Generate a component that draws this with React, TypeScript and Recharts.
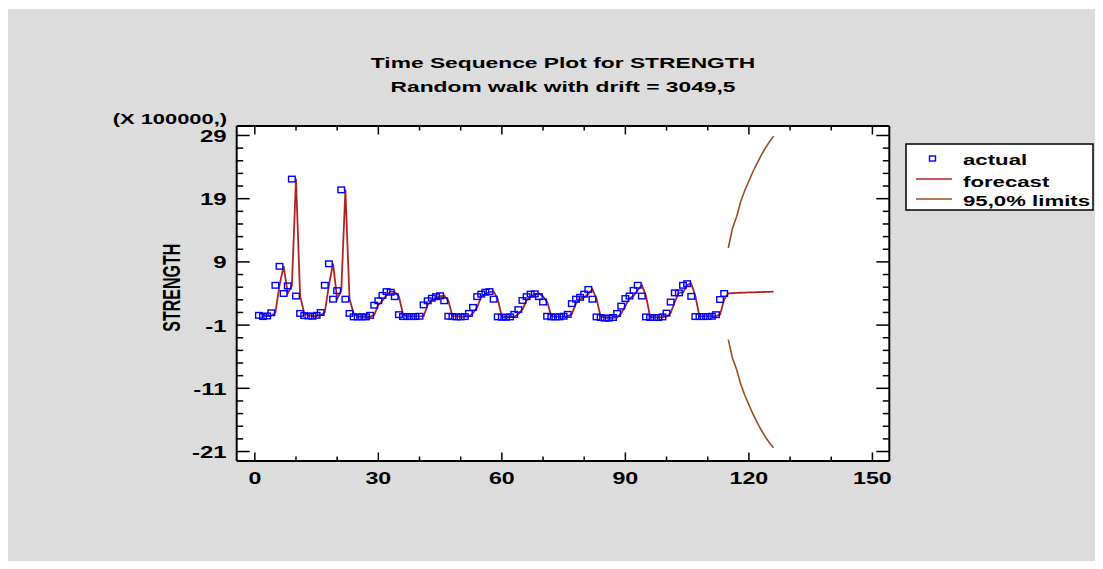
import { ComposedChart, Line, XAxis, YAxis, CartesianGrid, Legend, Customized } from 'recharts';

const FONT = '"Liberation Sans", Arial, sans-serif';

const TITLE = 'Time Sequence Plot for STRENGTH';
const SUBTITLE = 'Random walk with drift = 3049,5';
const Y_NAME = 'STRENGTH';
const Y_SCALE_NOTE = '(X 100000,)';
const LEGEND_NAMES = ['actual', 'forecast', '95,0% limits'];

// values in units of 100000
const ACTUAL_START = 1;
const actual = [
  0.55, 0.35, 0.45, 0.95, 5.3, 8.3, 4.0, 5.2, 22.1, 3.6, 0.85, 0.5,
  0.45, 0.4, 0.55, 1.0, 5.3, 8.7, 3.1, 4.45, 20.4, 3.1, 0.85, 0.3,
  0.3, 0.3, 0.3, 0.55, 2.15, 2.85, 3.7, 4.3, 4.2, 3.5, 0.65, 0.35,
  0.35, 0.35, 0.35, 0.4, 2.2, 2.85, 3.25, 3.5, 3.65, 2.85, 0.4, 0.35,
  0.3, 0.3, 0.35, 0.85, 1.8, 3.5, 3.9, 4.2, 4.3, 3.1, 0.3, 0.25,
  0.25, 0.3, 0.7, 1.45, 2.9, 3.5, 3.9, 3.95, 3.5, 2.65, 0.4, 0.3,
  0.3, 0.3, 0.4, 0.7, 2.4, 3.1, 3.4, 3.9, 4.65, 3.1, 0.3, 0.2,
  0.1, 0.1, 0.2, 0.85, 2.0, 3.2, 3.6, 4.5, 5.3, 3.6, 0.3, 0.2,
  0.2, 0.2, 0.3, 0.9, 2.65, 4.1, 4.1, 5.3, 5.55, 3.55, 0.35, 0.35,
  0.35, 0.35, 0.4, 0.65, 3.05, 4.0,
];

const FORECAST_START = 2;
const forecast = [
  0.58, 0.38, 0.48, 0.98, 5.33, 8.33, 4.03, 5.23, 22.13, 3.63, 0.88, 0.53,
  0.48, 0.43, 0.58, 1.03, 5.33, 8.73, 3.13, 4.48, 20.43, 3.13, 0.88, 0.33,
  0.33, 0.33, 0.33, 0.58, 2.18, 2.88, 3.73, 4.33, 4.23, 3.53, 0.68, 0.38,
  0.38, 0.38, 0.38, 0.43, 2.23, 2.88, 3.28, 3.53, 3.68, 2.88, 0.43, 0.38,
  0.33, 0.33, 0.38, 0.88, 1.83, 3.53, 3.93, 4.23, 4.33, 3.13, 0.33, 0.28,
  0.28, 0.33, 0.73, 1.48, 2.93, 3.53, 3.93, 3.98, 3.53, 2.68, 0.43, 0.33,
  0.33, 0.33, 0.43, 0.73, 2.43, 3.13, 3.43, 3.93, 4.68, 3.13, 0.33, 0.23,
  0.13, 0.13, 0.23, 0.88, 2.03, 3.23, 3.63, 4.53, 5.33, 3.63, 0.33, 0.23,
  0.23, 0.23, 0.33, 0.93, 2.68, 4.13, 4.13, 5.33, 5.58, 3.58, 0.38, 0.38,
  0.38, 0.38, 0.43, 0.68, 3.08, 4.03,
  4.06, 4.09, 4.12, 4.15, 4.17, 4.19, 4.21, 4.23, 4.25, 4.27, 4.29,
];

const LIMIT_START = 115;
const upper = [11.2, 14.3, 16.1, 18.5, 20.3, 21.8, 23.3, 24.6, 25.9, 27.0, 28.0, 28.9];
const lower = [-3.3, -6.2, -8.0, -10.3, -12.1, -13.6, -15.1, -16.4, -17.6, -18.7, -19.6, -20.4];

const X_TICKS = [0, 10, 20, 30, 40, 50, 60, 70, 80, 90, 100, 110, 120, 130, 140, 150];
const X_LABELED = [0, 30, 60, 90, 120, 150];
const Y_TICKS = [-21, -19, -17, -15, -13, -11, -9, -7, -5, -3, -1, 1, 3, 5, 7, 9, 11, 13, 15, 17, 19, 21, 23, 25, 27, 29];
const Y_LABELED = [-21, -11, -1, 9, 19, 29];
const X_DOMAIN: [number, number] = [-4.4, 154.1];
const Y_DOMAIN: [number, number] = [-22.5, 30.5];

const lastT = FORECAST_START + forecast.length - 1;
const rows: any[] = [];
for (let t = ACTUAL_START; t <= lastT; t++) {
  rows.push({
    t,
    actual: actual[t - ACTUAL_START] ?? null,
    forecast: forecast[t - FORECAST_START] ?? null,
    upper: upper[t - LIMIT_START] ?? null,
    lower: lower[t - LIMIT_START] ?? null,
  });
}

const BLUE = '#0000ff';
const RED = '#b22222';
const BROWN = '#9b4f1c';
const txt = { fontFamily: FONT, fontWeight: 700, fill: '#000' };

function LeftTick({ x, y, payload }: any) {
  const major = Y_LABELED.includes(payload.value);
  return (
    <g>
      <line x1={x} y1={y} x2={x + (major ? 13 : 6.5)} y2={y} stroke="#000" strokeWidth={1.5} />
      {major && (
        <text transform={`translate(${x - 10},${y + 6.5}) scale(1.5,1)`} textAnchor="end" style={{ ...txt, fontSize: 16 }}>
          {payload.value}
        </text>
      )}
    </g>
  );
}

function RightTick({ x, y, payload }: any) {
  const major = Y_LABELED.includes(payload.value);
  return <line x1={x} y1={y} x2={x - (major ? 13 : 6.5)} y2={y} stroke="#000" strokeWidth={1.5} />;
}

function BottomTick({ x, y, payload }: any) {
  const major = X_LABELED.includes(payload.value);
  return (
    <g>
      <line x1={x} y1={y} x2={x} y2={y - (major ? 8.5 : 4.5)} stroke="#000" strokeWidth={1.5} />
      {major && (
        <text transform={`translate(${x},${y + 23}) scale(1.45,1)`} textAnchor="middle" style={{ ...txt, fontSize: 16 }}>
          {payload.value}
        </text>
      )}
    </g>
  );
}

function TopTick({ x, y, payload }: any) {
  const major = X_LABELED.includes(payload.value);
  return <line x1={x} y1={y} x2={x} y2={y + (major ? 8.5 : 4.5)} stroke="#000" strokeWidth={1.5} />;
}

function SquareDot({ cx, cy, index, value }: any) {
  if (value == null || cx == null || cy == null) return <g key={`s${index}`} />;
  return <rect key={`s${index}`} x={cx - 3.3} y={cy - 2.8} width={6.6} height={5.6} fill="none" stroke={BLUE} strokeWidth={1.4} />;
}

function Titles() {
  return (
    <g>
      <text transform="translate(555,58.5) scale(1.52,1)" textAnchor="middle" style={{ ...txt, fontSize: 15 }}>{TITLE}</text>
      <text transform="translate(555,82.5) scale(1.52,1)" textAnchor="middle" style={{ ...txt, fontSize: 15 }}>{SUBTITLE}</text>
      <text transform="translate(219,115) scale(1.46,1)" textAnchor="end" style={{ ...txt, fontSize: 15 }}>{Y_SCALE_NOTE}</text>
      <text transform="translate(163.5,278.7) rotate(-90) scale(1,1.5)" y={5.7} textAnchor="middle" style={{ ...txt, fontSize: 16 }}>{Y_NAME}</text>
    </g>
  );
}

function LegendBox() {
  const label = (y: number, s: string) => (
    <text transform={`translate(58,${y}) scale(1.48,1)`} style={{ ...txt, fontSize: 15 }}>{s}</text>
  );
  return (
    <svg width={189} height={68}>
      <rect x={1} y={1} width={187} height={66} fill="#fff" stroke="#000" strokeWidth={1.5} />
      <rect x={24.5} y={13} width={6} height={5} fill="none" stroke={BLUE} strokeWidth={1.4} />
      <line x1={11} y1={36} x2={47} y2={36} stroke={RED} strokeWidth={1.5} />
      <line x1={11} y1={56} x2={47} y2={56} stroke={BROWN} strokeWidth={1.5} />
      {label(22, LEGEND_NAMES[0])}
      {label(44, LEGEND_NAMES[1])}
      {label(63, LEGEND_NAMES[2])}
    </svg>
  );
}

export default function App() {
  return (
    <div style={{ width: 1087, height: 552, marginTop: 1, background: '#dcdcdc' }}>
      <ComposedChart width={1087} height={552} data={rows} margin={{ top: 116, right: 204.7, bottom: 99, left: 227.7 }}>
        <CartesianGrid xAxisId="b" yAxisId="l" horizontal={false} vertical={false} fill="#fff" />
        <XAxis xAxisId="b" dataKey="t" type="number" domain={X_DOMAIN} allowDataOverflow ticks={X_TICKS} interval={0}
          height={1} tickSize={0} tickMargin={0} tickLine={false} tick={BottomTick} axisLine={{ stroke: '#000', strokeWidth: 2 }} />
        <XAxis xAxisId="top" orientation="top" dataKey="t" type="number" domain={X_DOMAIN} allowDataOverflow ticks={X_TICKS} interval={0}
          height={1} tickSize={0} tickMargin={0} tickLine={false} tick={TopTick} axisLine={{ stroke: '#000', strokeWidth: 2 }} />
        <YAxis yAxisId="l" type="number" domain={Y_DOMAIN} allowDataOverflow ticks={Y_TICKS} interval={0}
          width={1} tickSize={0} tickMargin={0} tickLine={false} tick={LeftTick} axisLine={{ stroke: '#000', strokeWidth: 2 }} />
        <YAxis yAxisId="r" orientation="right" type="number" domain={Y_DOMAIN} allowDataOverflow ticks={Y_TICKS} interval={0}
          width={1} tickSize={0} tickMargin={0} tickLine={false} tick={RightTick} axisLine={{ stroke: '#000', strokeWidth: 2 }} />
        <Line xAxisId="b" yAxisId="l" dataKey="actual" stroke="none" dot={SquareDot} activeDot={false} isAnimationActive={false} />
        <Line xAxisId="b" yAxisId="l" type="linear" dataKey="forecast" stroke={RED} strokeWidth={1.8} dot={false} activeDot={false} isAnimationActive={false} />
        <Line xAxisId="b" yAxisId="l" type="linear" dataKey="upper" stroke={BROWN} strokeWidth={1.6} dot={false} activeDot={false} isAnimationActive={false} />
        <Line xAxisId="b" yAxisId="l" type="linear" dataKey="lower" stroke={BROWN} strokeWidth={1.6} dot={false} activeDot={false} isAnimationActive={false} />
        <Legend layout="vertical" align="center" verticalAlign="middle" content={LegendBox}
          wrapperStyle={{ left: 897, top: 133.7, width: 189, height: 68 }} />
        <Customized component={Titles} />
      </ComposedChart>
    </div>
  );
}
